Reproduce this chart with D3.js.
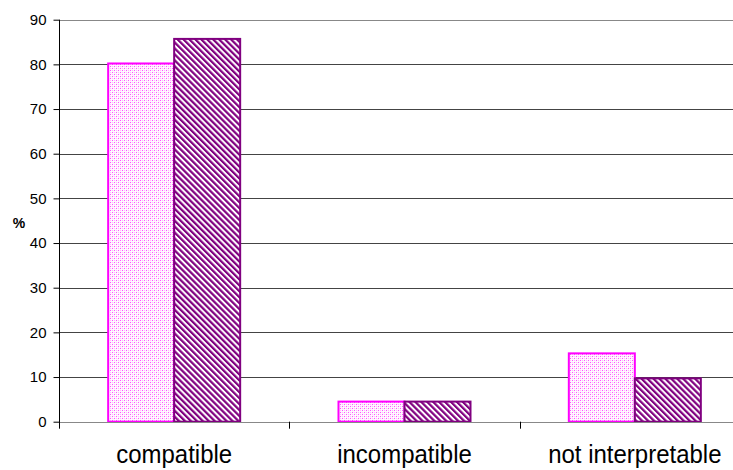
<!DOCTYPE html>
<html>
<head>
<meta charset="utf-8">
<script src="https://cdn.jsdelivr.net/npm/d3@7"></script>
<style>
  html, body { margin: 0; padding: 0; background: #fff; }
  svg { display: block; font-family: Arial, "Liberation Sans", sans-serif; }
</style>
</head>
<body>
<svg id="chart" width="733" height="470"></svg>
<script>
// Outcome categories and the two series (percent)
const categories = ["compatible", "incompatible", "not interpretable"];
const seriesA = [80.2, 4.5, 15.3];
const seriesB = [85.7, 4.5, 9.7];
const yTicks = [0, 10, 20, 30, 40, 50, 60, 70, 80, 90];
const yLabel = "%";

const svg = d3.select("#chart");
const plotLeft = 59, plotRight = 750, plotTop = 19.7, plotBottom = 421.7;

// Fill patterns: dotted pink and diagonal purple hatch
const defs = svg.append("defs");
const dots = defs.append("pattern").attr("id", "dots")
  .attr("patternUnits", "userSpaceOnUse").attr("width", 4).attr("height", 4);
dots.append("rect").attr("width", 4).attr("height", 4).attr("fill", "#fff4ff");
[[0, 0, "#ff55ff"], [2, 2, "#ff55ff"], [2, 0, "#ffbbff"], [0, 2, "#ffbbff"],
 [1, 1, "#ffffff"], [3, 3, "#ffffff"]].forEach(([px, py, col]) => {
  dots.append("rect").attr("x", px).attr("y", py).attr("width", 1).attr("height", 1).attr("fill", col);
});

const hatch = defs.append("pattern").attr("id", "hatch")
  .attr("patternUnits", "userSpaceOnUse").attr("width", 4.2).attr("height", 4.2)
  .attr("patternTransform", "rotate(-45)");
hatch.append("rect").attr("width", 4.2).attr("height", 4.2).attr("fill", "#fff");
hatch.append("rect").attr("width", 2.2).attr("height", 4.2).attr("fill", "#800080");

const x = d3.scaleBand().domain(categories).range([plotLeft, plotRight]).paddingInner(0).paddingOuter(0);
const y = d3.scaleLinear().domain([0, 90]).range([plotBottom, plotTop]);

const barW = 66;

// Horizontal gridlines
svg.append("g").selectAll("line").data(yTicks.filter(t => t > 0)).join("line")
  .attr("x1", plotLeft).attr("x2", plotRight)
  .attr("y1", d => Math.round(y(d)) + 0.5).attr("y2", d => Math.round(y(d)) + 0.5)
  .attr("stroke", d => d === 90 ? "#888" : "#444").attr("stroke-width", 1.2);

// Bars
const g = svg.append("g");
categories.forEach((c, i) => {
  const cx = x(c) + x.bandwidth() / 2;
  g.append("rect")
    .attr("x", cx - barW).attr("y", y(seriesA[i]))
    .attr("width", barW).attr("height", y(0) - y(seriesA[i]))
    .attr("fill", "url(#dots)").attr("stroke", "#ff00ff").attr("stroke-width", 2);
  g.append("rect")
    .attr("x", cx).attr("y", y(seriesB[i]))
    .attr("width", barW).attr("height", y(0) - y(seriesB[i]))
    .attr("fill", "url(#hatch)").attr("stroke", "#800080").attr("stroke-width", 2);
});

// Zero line
svg.append("line").attr("x1", plotLeft).attr("x2", plotRight)
  .attr("y1", Math.round(y(0)) + 0.5).attr("y2", Math.round(y(0)) + 0.5)
  .attr("stroke", "#888").attr("stroke-width", 1.2);

// Y axis
const yAxis = d3.axisLeft(y).tickValues(yTicks).tickSize(6).tickPadding(7).tickSizeOuter(0);
const ya = svg.append("g").attr("transform", `translate(${plotLeft + 0.5},0)`).call(yAxis);
ya.select(".domain").attr("stroke", "#000").attr("d", `M0,${plotTop}V${plotBottom + 7}`);
ya.selectAll(".tick line").attr("stroke", "#000");
ya.selectAll(".tick text").attr("font-size", 15).attr("fill", "#000")
  .attr("font-family", "Arial, 'Liberation Sans', sans-serif");

// Category separators below the axis
svg.append("g").selectAll("line").data(categories.slice(1)).join("line")
  .attr("x1", d => Math.round(x(d)) + 0.5).attr("x2", d => Math.round(x(d)) + 0.5)
  .attr("y1", plotBottom).attr("y2", plotBottom + 7).attr("stroke", "#000");

// Category labels (slightly tall letterforms)
svg.append("g").selectAll("text").data(categories).join("text")
  .attr("transform", d => `translate(${x(d) + x.bandwidth() / 2},463) scale(1,1.1)`)
  .attr("text-anchor", "middle").attr("font-size", 24).attr("fill", "#000")
  .text(d => d);

// Y axis title
svg.append("text").attr("x", 19).attr("y", 228).attr("text-anchor", "middle")
  .attr("font-size", 14).attr("font-weight", "bold").text(yLabel);
</script>
</body>
</html>
